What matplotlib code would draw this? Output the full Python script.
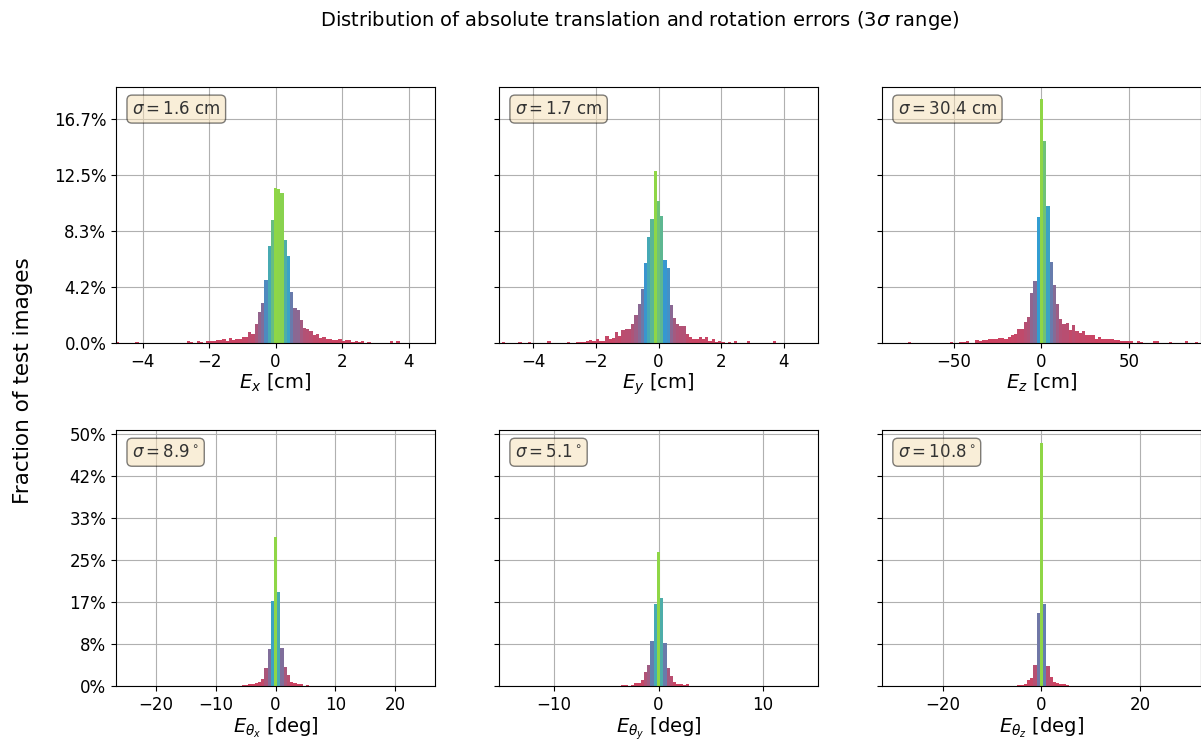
import numpy as np
import matplotlib.pyplot as plt
from matplotlib.colors import LinearSegmentedColormap
from matplotlib.ticker import FixedLocator, PercentFormatter

# per-axis spread, histograms cover +-3 sigma with 99 bins
sigmas = [1.6, 1.7, 30.4, 8.9, 5.1, 10.8]
units = ['cm', 'cm', 'cm', 'deg', 'deg', 'deg']
xlabels = [r'$E_x$ [cm]', r'$E_y$ [cm]', r'$E_z$ [cm]',
           r'$E_{\theta_x}$ [deg]', r'$E_{\theta_y}$ [deg]', r'$E_{\theta_z}$ [deg]']

# share of test images per bin, in percent
ex_pct = [0.08, 0, 0, 0, 0, 0, 0.08, 0, 0, 0, 0,
          0, 0, 0, 0, 0, 0, 0, 0, 0, 0, 0,
          0.12, 0.05, 0, 0.12, 0.05, 0, 0.10, 0.15, 0.15, 0.20, 0.22,
          0.25, 0.15, 0.35, 0.22, 0.30, 0.30, 0.42, 0.45, 0.77, 0.68, 1.44,
          2.26, 2.94, 4.65, 7.19, 9.13, 11.55, 11.43, 11.17, 7.64, 6.45, 3.78,
          2.56, 2.46, 1.69, 1.12, 1.00, 0.90, 0.55, 0.67, 0.37, 0.47, 0.25,
          0.32, 0.20, 0.22, 0.25, 0.17, 0.20, 0.20, 0.07, 0.12, 0.05, 0.10,
          0, 0.05, 0, 0, 0, 0, 0, 0, 0.10, 0, 0.10,
          0, 0, 0, 0, 0, 0, 0, 0, 0, 0, 0]
ey_pct = [0, 0.05, 0, 0, 0, 0, 0.05, 0, 0, 0.05, 0,
          0, 0, 0, 0, 0.17, 0, 0, 0, 0, 0, 0.07,
          0, 0, 0.05, 0.05, 0.07, 0.12, 0.20, 0.15, 0.32, 0.17, 0.17,
          0.52, 0.32, 0.35, 0.77, 0.50, 0.92, 1.00, 1.00, 1.42, 2.09, 2.86,
          4.03, 5.95, 7.86, 9.25, 12.79, 10.55, 9.45, 6.14, 5.60, 2.84, 1.82,
          1.42, 1.24, 1.29, 0.67, 0.40, 0.30, 0.25, 0.47, 0.27, 0.40, 0.17,
          0.25, 0.07, 0.17, 0.05, 0, 0.07, 0, 0.10, 0, 0, 0,
          0.17, 0, 0, 0, 0, 0, 0, 0, 0.15, 0, 0,
          0, 0, 0, 0, 0, 0, 0, 0, 0, 0, 0]
ez_pct = [0, 0, 0, 0, 0, 0, 0, 0, 0.07, 0, 0,
          0, 0, 0, 0, 0, 0, 0, 0, 0, 0, 0.05,
          0, 0, 0.07, 0.07, 0.10, 0, 0, 0.20, 0.17, 0.22, 0.22,
          0.27, 0.25, 0.30, 0.37, 0.35, 0.30, 0.47, 0.60, 0.67, 1.02, 1.02,
          1.54, 1.92, 3.71, 4.58, 9.35, 18.13, 15.02, 10.17, 6.00, 4.28, 2.91,
          1.74, 1.42, 1.47, 0.92, 1.34, 0.87, 0.75, 0.85, 0.60, 0.60, 0.55,
          0.27, 0.40, 0.32, 0.30, 0.30, 0.32, 0.22, 0.20, 0.17, 0.15, 0.10,
          0.10, 0, 0.10, 0.07, 0, 0, 0, 0.12, 0.12, 0, 0,
          0, 0.05, 0, 0, 0, 0, 0.12, 0, 0, 0.05, 0]
erx_pct = ([0] * 38 +
           [0.07, 0.20, 0.27, 0.33, 0.33, 0.53, 0.80, 1.40, 3.66, 7.39, 16.84,
            29.56, 18.57, 7.59, 3.79, 2.20, 0.80, 0.53, 0.47, 0.47, 0, 0.27] +
           [0] * 39)
ery_pct = ([0] * 38 +
           [0.13, 0.13, 0.07, 0.20, 0.60, 0.60, 1.13, 2.80, 4.19, 8.99, 16.38,
            26.56, 17.38, 8.59, 3.60, 2.06, 0.80, 0.47, 0.40, 0.13, 0.40] +
           [0] * 40)
erz_pct = ([0] * 41 +
           [0.07, 0.13, 0.27, 0.33, 1.13, 1.60, 4.13, 14.58,
            48.34, 16.38, 4.00, 1.86, 0.87, 0.53, 0.40, 0.33, 0.13] +
           [0] * 41)
all_pct = [ex_pct, ey_pct, ez_pct, erx_pct, ery_pct, erz_pct]

# low bins red, mid blue, the tallest bin green
cmap = LinearSegmentedColormap.from_list('err', ['#d2405e', '#2f9bd6', '#8fd646'])

fig, axes = plt.subplots(2, 3, figsize=(12.01, 7.4), dpi=100, sharey='row')
fig.subplots_adjust(left=0.0966, right=1.0, top=0.882, bottom=0.073,
                    wspace=0.2, hspace=0.343)

for ax, s, unit, xl, pct in zip(axes.flat, sigmas, units, xlabels, all_pct):
    edges = np.linspace(-3 * s, 3 * s, 100)
    centers = 0.5 * (edges[:-1] + edges[1:])
    n, bins, patches = ax.hist(centers, bins=edges, weights=np.array(pct) / 100.0)
    fracs = n / n.max()
    for f, p in zip(fracs, patches):
        p.set_facecolor(cmap(f))
    ax.set_xlim(-3 * s, 3 * s)
    ax.set_xlabel(xl, fontsize=14, labelpad=1)
    ax.tick_params(labelsize=12)
    ax.grid(True)
    ax.set_axisbelow(True)
    if unit == 'cm':
        txt = r'$\sigma=%.1f$ cm' % s
    else:
        txt = r'$\sigma=%.1f^\circ$' % s
    ax.text(0.05, 0.95, txt, transform=ax.transAxes, fontsize=12, va='top',
            color='#333333',
            bbox=dict(boxstyle='round', facecolor='wheat', alpha=0.5))

for ax in axes[0]:
    ax.yaxis.set_major_locator(FixedLocator(np.arange(5) / 24))
    ax.yaxis.set_major_formatter(PercentFormatter(1, decimals=1))
for ax in axes[1]:
    ax.yaxis.set_major_locator(FixedLocator(np.arange(7) / 12))
    ax.yaxis.set_major_formatter(PercentFormatter(1, decimals=0))

fig.suptitle(r'Distribution of absolute translation and rotation errors ($3\sigma$ range)',
             fontsize=14, x=0.533, y=0.988)
fig.text(0.019, 0.485, 'Fraction of test images', rotation=90,
         va='center', ha='center', fontsize=15.5)

fig.savefig('out.png')
